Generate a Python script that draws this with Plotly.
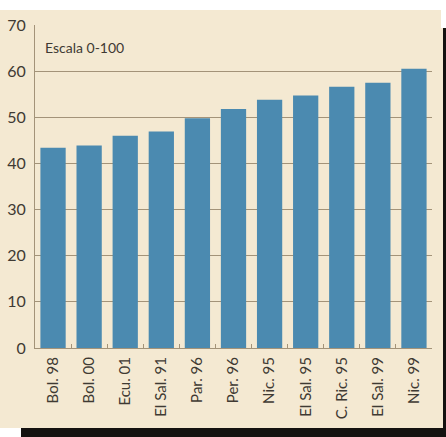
import plotly.graph_objects as go

# Survey results by country and year (scale 0-100)
categories = ["Bol. 98", "Bol. 00", "Ecu. 01", "El Sal. 91", "Par. 96", "Per. 96",
              "Nic. 95", "El Sal. 95", "C. Ric. 95", "El Sal. 99", "Nic. 99"]
values = [43.4, 43.9, 46.0, 46.9, 49.8, 51.8, 53.8, 54.7, 56.6, 57.5, 60.5]
y_ticks = [0, 10, 20, 30, 40, 50, 60, 70]

W, H = 446, 437
L, R, T, B = 35, 14, 25, 89
PW, PH = W - L - R, H - T - B

CREAM = "#f4e9d2"
BAR = "#4b8ab0"
GRID = "#a39379"
TEXT = "#3f3a33"


def px_x(x):
    return (x - L) / PW


def px_y(y):
    return (H - B - y) / PH


fig = go.Figure(go.Bar(
    x=categories, y=values,
    marker=dict(color=BAR, line=dict(width=0)),
    width=0.7,
))

# page edges: white margin at top, dark drop shadow on right and bottom
edges = [
    (0, 0, W, 10, "white"),
    (441, 0, W, 28, "white"),
    (443, 28, W, H, "#141210"),
    (0, 428, 21, H, "white"),
    (21, 428, W, H, "#141210"),
]
shapes = []
for x0, y0, x1, y1, c in edges:
    shapes.append(dict(type="rect", xref="paper", yref="paper",
                       x0=px_x(x0), x1=px_x(x1), y0=px_y(y1), y1=px_y(y0),
                       fillcolor=c, line=dict(width=0), layer="below"))

fig.update_layout(
    width=W, height=H,
    margin=dict(l=L, r=R, t=T, b=B),
    paper_bgcolor=CREAM, plot_bgcolor=CREAM,
    showlegend=False,
    font=dict(family="Lato", color=TEXT),
    shapes=shapes,
    annotations=[dict(text="Escala 0-100", xref="paper", yref="paper",
                      x=px_x(43), y=px_y(47), xanchor="left", yanchor="middle",
                      showarrow=False, font=dict(size=14, color=TEXT))],
    xaxis=dict(
        tickangle=-90, tickfont=dict(size=15, color=TEXT),
        ticklabelstandoff=2,
        ticks="inside", tickson="boundaries", ticklen=4, tickcolor=GRID,
        showline=True, linecolor=GRID, linewidth=1,
        showgrid=False, range=[-0.5, 10.5], automargin=False,
    ),
    yaxis=dict(
        range=[0, 70], tickvals=y_ticks,
        tickfont=dict(size=16, color=TEXT),
        ticklabelstandoff=5,
        showgrid=True, gridcolor=GRID, gridwidth=1,
        showline=True, linecolor=GRID, linewidth=1,
        zeroline=False, ticks="", automargin=False,
    ),
)

fig.write_html("out.html")
